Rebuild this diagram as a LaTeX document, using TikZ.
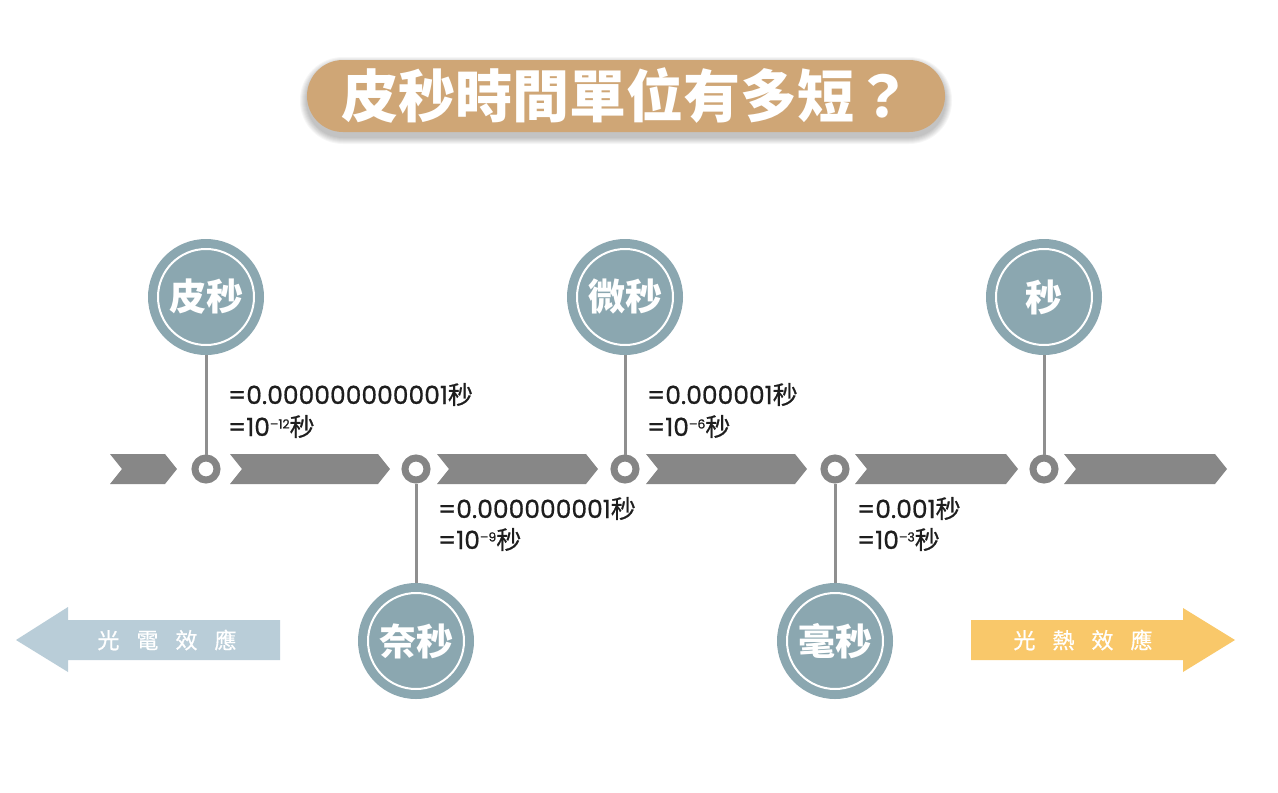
\documentclass[tikz,border=0pt]{standalone}
\usepackage{fontspec}
\setmainfont{Poppins}
\newfontfamily\numfont{Poppins}[FakeBold=0.7]
\newfontfamily\cjk{Noto Sans CJK TC}
\newfontfamily\cjkm{Noto Sans CJK TC}[FakeBold=0.6]
\definecolor{circ}{HTML}{8BA7B0}
\definecolor{chev}{HTML}{878787}
\definecolor{ringc}{HTML}{858585}
\definecolor{connc}{HTML}{8F8F8F}
\definecolor{pillc}{HTML}{CFA676}
\definecolor{larr}{HTML}{B9CDD8}
\definecolor{rarr}{HTML}{F9C86A}
\definecolor{txt}{HTML}{1E1E1E}
\newcommand\myexp[1]{\raisebox{7.5pt}{\fontsize{12.5}{12}\selectfont #1}}
\tikzset{
  bigc/.style={circle, fill=circ, minimum size=116pt, inner sep=0pt, text=white,
    font=\cjk\bfseries\fontsize{37}{40}\selectfont,
    path picture={\draw[white,line width=2pt] (path picture bounding box.center) circle (48pt);}},
  ringn/.style={circle, draw=ringc, line width=7pt, fill=white, minimum size=22pt, inner sep=0pt},
  conn/.style={draw=connc, line width=3pt},
  chevron/.style={fill=chev},
  lbl/.style={anchor=base west, inner sep=0pt, text=txt, font=\numfont\fontsize{25}{28}\selectfont},
  arrtxt/.style={text=white, inner sep=0pt, font=\cjkm\fontsize{22}{24}\selectfont},
  pill/.style={fill=pillc, rounded corners=36pt, minimum width=638pt, minimum height=72pt,
    text=white, inner sep=0pt, font=\cjk\bfseries\fontsize{57}{60}\selectfont}
}
\begin{document}
\begin{tikzpicture}[x=1pt,y=-1pt]
\useasboundingbox[fill=white] (0,0) rectangle (1278,793);
% title shadow
\foreach \i in {1,...,7}{
  \fill[black, opacity=0.035, rounded corners={36+\i}] (307-\i,64-\i) rectangle (945+\i,137+\i);
}
\node[pill] (title) at (626,96) {皮秒時間單位有多短？};
% chevrons
\foreach \xl/\xr in {110/177,230/390,437/598,646/807,855/1018,1064/1227}{
  \fill[chevron] (\xl,454) -- (\xr-12,454) -- (\xr,469) -- (\xr-12,484) -- (\xl,484) -- (\xl+12,469) -- cycle;
}
% rings
\node[ringn] (r1) at (206,469) {};
\node[ringn] (r2) at (416,469) {};
\node[ringn] (r3) at (625,469) {};
\node[ringn] (r4) at (835,469) {};
\node[ringn] (r5) at (1044,469) {};
% big circles
\node[bigc] (pico) at (206,297) {皮秒};
\node[bigc] (nano) at (416,641) {奈秒};
\node[bigc] (micro) at (625,297) {微秒};
\node[bigc] (milli) at (835,641) {毫秒};
\node[bigc] (sec) at (1044,297) {秒};
% connectors
\draw[conn] (pico) -- (r1);
\draw[conn] (nano) -- (r2);
\draw[conn] (micro) -- (r3);
\draw[conn] (milli) -- (r4);
\draw[conn] (sec) -- (r5);
% labels
\node[lbl] (l1a) at (228,404) {=0.000000000001{\cjkm 秒}};
\node[lbl] (l1b) at (228,436) {=10\myexp{–12}{\cjkm 秒}};
\node[lbl] (l2a) at (438,518) {=0.000000001{\cjkm 秒}};
\node[lbl] (l2b) at (438,549) {=10\myexp{–9}{\cjkm 秒}};
\node[lbl] (l3a) at (647,404) {=0.000001{\cjkm 秒}};
\node[lbl] (l3b) at (647,436) {=10\myexp{–6}{\cjkm 秒}};
\node[lbl] (l4a) at (857,518) {=0.001{\cjkm 秒}};
\node[lbl] (l4b) at (857,549) {=10\myexp{–3}{\cjkm 秒}};
% effect arrows
\fill[larr] (16,640) -- (68,607) -- (68,620) -- (280,620) -- (280,660) -- (68,660) -- (68,672) -- cycle;
\fill[rarr] (971,620) -- (1183,620) -- (1183,608) -- (1235,640) -- (1183,672) -- (1183,660) -- (971,660) -- cycle;
\node[arrtxt] (pe) at (167,640) {光\hspace{17pt}電\hspace{17pt}效\hspace{17pt}應};
\node[arrtxt] (pt) at (1083,640) {光\hspace{17pt}熱\hspace{17pt}效\hspace{17pt}應};
\end{tikzpicture}
\end{document}
